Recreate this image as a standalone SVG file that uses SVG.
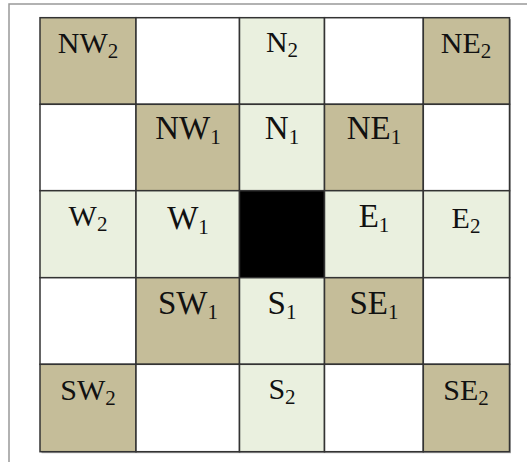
<svg xmlns="http://www.w3.org/2000/svg" width="527" height="462" viewBox="0 0 527 462">
<style>
.c{stroke:#333;stroke-width:1.5}
.t{fill:#C5BD99}
.g{fill:#EAF0DF}
.w{fill:#fff}
.k{fill:#000}
text{font-family:"Liberation Serif","Times New Roman",serif;font-size:30px;fill:#111;text-anchor:middle}
text.b{font-size:33px}
.s{font-size:21px}
</style>
<rect width="527" height="462" fill="#fff"/>
<g id="frame" fill="none" stroke="#999" stroke-width="1.5">
<path d="M9 462V4H527"/>
</g>
<rect x="41.5" y="19.2" width="469.5" height="434" fill="#aaa"/>
<g id="row0">
<g id="NW2"><rect class="c t" x="40" y="17.7" width="96" height="86.6"/><text x="88" y="53">NW<tspan class="s" dy="5">2</tspan></text></g>
<g id="c01"><rect class="c w" x="136" y="17.7" width="103.5" height="86.6"/></g>
<g id="N2"><rect class="c g" x="239.5" y="17.7" width="85" height="86.6"/><text x="282" y="52">N<tspan class="s" dy="5">2</tspan></text></g>
<g id="c03"><rect class="c w" x="324.5" y="17.7" width="98.8" height="86.6"/></g>
<g id="NE2"><rect class="c t" x="423.3" y="17.7" width="86.2" height="86.6"/><text x="466" y="53">NE<tspan class="s" dy="5">2</tspan></text></g>
</g>
<g id="row1">
<g id="c10"><rect class="c w" x="40" y="104.3" width="96" height="86.4"/></g>
<g id="NW1"><rect class="c t" x="136" y="104.3" width="103.5" height="86.4"/><text class="b" x="188" y="139">NW<tspan class="s" dy="5">1</tspan></text></g>
<g id="N1"><rect class="c g" x="239.5" y="104.3" width="85" height="86.4"/><text class="b" x="282" y="139">N<tspan class="s" dy="5">1</tspan></text></g>
<g id="NE1"><rect class="c t" x="324.5" y="104.3" width="98.8" height="86.4"/><text class="b" x="374" y="139">NE<tspan class="s" dy="5">1</tspan></text></g>
<g id="c14"><rect class="c w" x="423.3" y="104.3" width="86.2" height="86.4"/></g>
</g>
<g id="row2">
<g id="W2"><rect class="c g" x="40" y="190.7" width="96" height="87"/><text x="88" y="226">W<tspan class="s" dy="5">2</tspan></text></g>
<g id="W1"><rect class="c g" x="136" y="190.7" width="103.5" height="87"/><text class="b" x="188" y="229">W<tspan class="s" dy="5">1</tspan></text></g>
<g id="C"><rect class="c k" x="239.5" y="190.7" width="85" height="87"/></g>
<g id="E1"><rect class="c g" x="324.5" y="190.7" width="98.8" height="87"/><text class="b" x="374" y="227">E<tspan class="s" dy="5">1</tspan></text></g>
<g id="E2"><rect class="c g" x="423.3" y="190.7" width="86.2" height="87"/><text x="466" y="228">E<tspan class="s" dy="5">2</tspan></text></g>
</g>
<g id="row3">
<g id="c30"><rect class="c w" x="40" y="277.7" width="96" height="86.6"/></g>
<g id="SW1"><rect class="c t" x="136" y="277.7" width="103.5" height="86.6"/><text class="b" x="188" y="314">SW<tspan class="s" dy="5">1</tspan></text></g>
<g id="S1"><rect class="c g" x="239.5" y="277.7" width="85" height="86.6"/><text class="b" x="282" y="314">S<tspan class="s" dy="5">1</tspan></text></g>
<g id="SE1"><rect class="c t" x="324.5" y="277.7" width="98.8" height="86.6"/><text class="b" x="374" y="314">SE<tspan class="s" dy="5">1</tspan></text></g>
<g id="c34"><rect class="c w" x="423.3" y="277.7" width="86.2" height="86.6"/></g>
</g>
<g id="row4">
<g id="SW2"><rect class="c t" x="40" y="364.3" width="96" height="87.4"/><text x="88" y="400">SW<tspan class="s" dy="5">2</tspan></text></g>
<g id="c41"><rect class="c w" x="136" y="364.3" width="103.5" height="87.4"/></g>
<g id="S2"><rect class="c g" x="239.5" y="364.3" width="85" height="87.4"/><text x="282" y="399">S<tspan class="s" dy="5">2</tspan></text></g>
<g id="c43"><rect class="c w" x="324.5" y="364.3" width="98.8" height="87.4"/></g>
<g id="SE2"><rect class="c t" x="423.3" y="364.3" width="86.2" height="87.4"/><text x="466" y="400">SE<tspan class="s" dy="5">2</tspan></text></g>
</g>
<g id="connectors"/>
</svg>
